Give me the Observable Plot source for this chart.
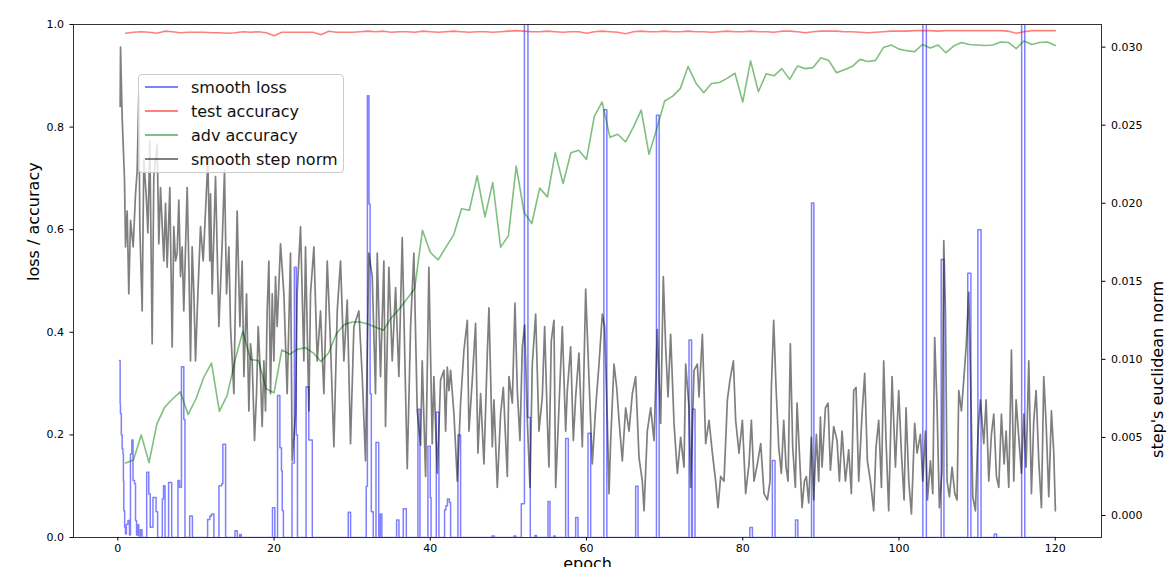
<!DOCTYPE html>
<html><head><meta charset="utf-8">
<script src="https://cdn.jsdelivr.net/npm/d3@7"></script>
<script src="https://cdn.jsdelivr.net/npm/@observablehq/plot@0.6"></script>
<style>
html,body{margin:0;padding:0;background:#fff;}
#wrap{position:relative;width:1168px;height:567px;overflow:hidden;font-family:"DejaVu Sans",sans-serif;}
#wrap svg{position:absolute;left:0;top:0;}
#legend{position:absolute;left:138px;top:74px;width:204px;height:97px;border:1px solid #cccccc;border-radius:4px;background:rgba(255,255,255,0.8);}
.row{position:absolute;left:0;width:100%;height:0;}
.sw{position:absolute;left:6px;width:33px;height:2px;top:-1px;}
.lb{position:absolute;left:52px;top:-9px;font-size:16px;line-height:20px;white-space:nowrap;color:#111;}
</style></head><body><div id="wrap"></div>
<script>
// ---- data ----
const epochs = d3.range(1, 121);
const testAccuracy = [
0.983,0.985,0.986,0.985,0.983,0.987,0.986,0.984,0.985,0.985,
0.985,0.984,0.984,0.983,0.984,0.986,0.985,0.986,0.984,0.978,
0.985,0.985,0.985,0.985,0.985,0.980,0.987,0.985,0.985,0.985,
0.986,0.987,0.986,0.987,0.985,0.986,0.986,0.985,0.987,0.986,
0.985,0.986,0.987,0.986,0.985,0.986,0.986,0.985,0.986,0.987,
0.988,0.987,0.986,0.986,0.987,0.986,0.985,0.986,0.986,0.983,
0.986,0.987,0.986,0.985,0.982,0.986,0.987,0.986,0.986,0.987,
0.986,0.986,0.987,0.986,0.986,0.985,0.986,0.987,0.986,0.986,
0.987,0.986,0.986,0.985,0.987,0.987,0.986,0.984,0.986,0.987,
0.987,0.987,0.986,0.986,0.985,0.984,0.985,0.986,0.987,0.987,
0.987,0.988,0.988,0.988,0.987,0.988,0.988,0.988,0.988,0.988,
0.988,0.988,0.988,0.987,0.983,0.986,0.988,0.988,0.988,0.988];
const advAccuracy = [
0.145,0.151,0.200,0.146,0.221,0.254,0.270,0.284,0.240,0.270,
0.312,0.340,0.246,0.277,0.345,0.402,0.347,0.345,0.290,0.282,
0.366,0.357,0.367,0.370,0.360,0.343,0.360,0.398,0.415,0.420,
0.420,0.416,0.410,0.404,0.428,0.445,0.465,0.485,0.599,0.556,
0.541,0.566,0.590,0.641,0.638,0.705,0.625,0.692,0.566,0.588,
0.724,0.634,0.612,0.681,0.664,0.750,0.690,0.750,0.755,0.737,
0.821,0.849,0.780,0.786,0.771,0.800,0.833,0.747,0.797,0.851,
0.860,0.875,0.918,0.886,0.867,0.885,0.887,0.895,0.905,0.849,
0.929,0.869,0.904,0.900,0.914,0.893,0.919,0.914,0.916,0.935,
0.930,0.906,0.912,0.918,0.932,0.928,0.930,0.955,0.960,0.952,
0.949,0.947,0.961,0.954,0.960,0.945,0.958,0.965,0.961,0.960,
0.959,0.960,0.966,0.965,0.953,0.968,0.961,0.965,0.966,0.959];
// smooth loss: [epoch, value] (drawn as steps)
const smoothLoss = [
[0.22,0.345],[0.30,0.26],[0.34,0.241],[0.45,0.20],[0.56,0.173],[0.66,0.163],[0.72,0.11],[0.77,0.052],[0.88,0.02],[0.98,0.007],
[1.10,0.026],[1.30,0.033],[1.50,0.005],[1.62,0.163],[1.80,0.19],[1.95,0.111],[2.15,0.105],[2.27,0.033],[2.40,0.005],[2.55,0.025],
[2.69,0.003],[2.90,0.015],[3.10,0.0],[3.70,0.127],[3.97,0.085],[4.15,0.02],[4.50,0.078],[4.90,0.05],[5.10,0.0],[5.70,0.075],
[5.85,0.101],[6.05,0.0],[6.50,0.107],[6.90,0.0],[7.70,0.111],[7.90,0.098],[8.15,0.333],[8.45,0.23],[8.60,0.0],[9.20,0.042],
[9.55,0.0],[11.50,0.035],[11.78,0.042],[12.00,0.046],[12.30,0.0],[12.95,0.101],[13.30,0.105],[13.45,0.182],[13.80,0.0],[15.00,0.013],
[15.30,0.0],[15.60,0.006],[15.80,0.0],[19.80,0.058],[20.10,0.0],[20.45,0.277],[20.75,0.175],[20.95,0.13],[21.05,0.052],[21.20,0.0],
[22.30,0.145],[22.60,0.527],[22.85,0.2],[23.00,0.0],[24.10,0.294],[24.45,0.19],[24.90,0.0],[29.50,0.049],[29.80,0.0],[31.80,0.1],
[31.95,0.861],[32.15,0.65],[32.30,0.28],[32.45,0.05],[32.70,0.0],[33.05,0.185],[33.40,0.0],[33.60,0.046],[33.80,0.0],[35.69,0.034],
[35.99,0.0],[36.54,0.056],[36.93,0.0],[38.42,0.25],[38.68,0.0],[39.70,0.178],[40.00,0.078],[40.10,0.0],[40.77,0.244],[41.11,0.0],
[41.83,0.054],[42.00,0.062],[42.20,0.075],[42.45,0.068],[42.60,0.0],[43.54,0.2],[43.88,0.0],[47.90,0.003],[48.20,0.0],[50.70,0.003],
[50.95,0.0],[51.65,0.066],[52.05,1.2],[52.50,0.234],[52.80,0.0],[53.40,0.004],[53.60,0.0],[55.07,0.07],[55.32,0.0],[55.80,0.003],
[56.00,0.0],[57.33,0.193],[57.67,0.0],[58.61,0.039],[58.91,0.0],[60.19,0.203],[60.53,0.0],[62.22,0.834],[62.60,0.0],[66.29,0.10],
[66.59,0.0],[68.95,0.823],[69.30,0.0],[73.12,0.385],[73.45,0.0],[73.55,0.25],[73.89,0.0],[80.90,0.0195],[81.23,0.0],[83.79,0.15],
[84.13,0.0],[86.75,0.034],[87.05,0.0],[88.80,0.652],[89.10,0.0],[103.05,1.2],[103.50,0.0],[105.40,0.542],[105.75,0.0],[108.80,0.515],
[109.20,0.0],[110.10,0.6],[110.50,0.0],[112.20,0.007],[112.50,0.0],[115.70,1.2],[116.10,0.0],[120.00,0.0]];
// smooth step norm: [epoch, value] (right axis)
const stepNorm = [
[0.30,0.0262],[0.35,0.0300],[0.56,0.0255],[0.86,0.0215],[0.99,0.0172],[1.20,0.0195],[1.41,0.0142],[1.63,0.0189],[1.97,0.0172],[2.27,0.0206],
[2.48,0.0221],[2.69,0.0270],[2.82,0.0185],[3.12,0.0131],[3.33,0.0228],[3.67,0.0202],[3.85,0.0181],[4.10,0.0240],[4.40,0.0110],[4.61,0.0217],
[5.04,0.0238],[5.25,0.0174],[5.47,0.0210],[5.89,0.0163],[6.11,0.0200],[6.32,0.0159],[6.66,0.0210],[6.96,0.0108],[7.17,0.0185],[7.39,0.0163],
[7.60,0.0168],[7.81,0.0202],[8.03,0.0153],[8.24,0.0172],[8.45,0.0131],[8.88,0.0210],[9.10,0.0159],[9.31,0.0099],[9.52,0.0172],[9.74,0.0142],
[9.95,0.0099],[10.25,0.0142],[10.59,0.0185],[10.93,0.0163],[11.23,0.0195],[11.53,0.0228],[11.78,0.0163],[11.87,0.0206],[12.08,0.0142],[12.51,0.0217],
[12.94,0.0121],[13.36,0.0174],[13.66,0.0221],[13.92,0.0142],[14.22,0.0172],[14.43,0.0121],[14.86,0.0078],[15.07,0.0142],[15.28,0.0195],[15.63,0.0121],
[15.92,0.0163],[16.14,0.0089],[16.48,0.0142],[16.78,0.0067],[16.99,0.0110],[17.20,0.0099],[17.50,0.0048],[17.76,0.0078],[17.97,0.0121],[18.27,0.0089],
[18.48,0.0057],[18.70,0.0099],[18.91,0.0067],[19.12,0.0131],[19.34,0.0163],[19.55,0.0078],[19.77,0.0142],[19.98,0.0099],[20.19,0.0153],[20.40,0.0121],
[20.83,0.0174],[21.26,0.0142],[21.68,0.0078],[22.11,0.0168],[22.32,0.0035],[22.75,0.0065],[22.96,0.0142],[23.39,0.0185],[23.82,0.0099],[24.03,0.0172],
[24.46,0.0067],[24.67,0.0142],[25.10,0.0172],[25.53,0.0099],[25.95,0.0131],[26.38,0.0078],[26.81,0.0163],[27.23,0.0110],[27.66,0.0044],[28.09,0.0131],
[28.51,0.0163],[28.94,0.0099],[29.37,0.0138],[29.79,0.0046],[30.22,0.0121],[30.86,0.0131],[31.29,0.0089],[31.71,0.0035],[32.14,0.0168],[32.57,0.0153],
[32.99,0.0078],[33.21,0.0168],[33.63,0.0089],[34.06,0.0163],[34.27,0.0057],[34.70,0.0159],[35.13,0.0099],[35.56,0.0146],[35.98,0.0089],[36.41,0.0178],
[36.84,0.0078],[37.05,0.0030],[37.48,0.0121],[37.90,0.0168],[38.33,0.0067],[38.76,0.0045],[38.97,0.0099],[39.40,0.0025],[39.82,0.0159],[40.25,0.0046],
[40.46,0.0089],[40.90,0.0027],[41.32,0.0087],[41.75,0.0093],[41.96,0.0054],[42.18,0.0095],[42.39,0.0080],[42.60,0.0093],[43.03,0.0065],[43.46,0.0022],
[43.88,0.0072],[44.31,0.0106],[44.74,0.0125],[44.95,0.0054],[45.38,0.0087],[45.80,0.0123],[46.10,0.0040],[46.44,0.0078],[46.87,0.0033],[47.30,0.0104],
[47.51,0.0133],[47.94,0.0044],[48.15,0.0074],[48.58,0.0018],[49.00,0.0065],[49.35,0.0082],[49.65,0.0048],[49.86,0.0025],[50.07,0.0089],[50.50,0.0072],
[50.84,0.0136],[51.14,0.0080],[51.48,0.0048],[51.78,0.0108],[52.08,0.0122],[52.42,0.0061],[52.76,0.0018],[53.06,0.0097],[53.49,0.0129],[53.91,0.0054],
[54.34,0.0076],[54.64,0.0121],[54.98,0.0061],[55.19,0.0031],[55.49,0.0112],[55.83,0.0125],[56.05,0.0018],[56.47,0.0069],[56.90,0.0121],[57.33,0.0054],
[57.54,0.0080],[57.97,0.0108],[58.31,0.0048],[58.61,0.0076],[59.03,0.0104],[59.46,0.0044],[59.89,0.0145],[60.32,0.0087],[60.74,0.0033],[61.17,0.0069],
[61.60,0.0097],[62.02,0.0129],[62.32,0.0121],[62.66,0.0061],[62.88,0.0014],[63.09,0.0048],[63.52,0.0097],[63.86,0.0082],[64.16,0.0061],[64.58,0.0035],
[65.01,0.0069],[65.44,0.0054],[65.86,0.0078],[66.29,0.0089],[66.72,0.0037],[67.14,0.0022],[67.36,0.0003],[67.78,0.0054],[68.21,0.0069],[68.64,0.0048],
[69.06,0.0119],[69.49,0.0059],[69.83,0.0153],[70.13,0.0108],[70.43,0.0076],[70.77,0.0116],[71.20,0.0059],[71.63,0.0027],[72.05,0.0050],[72.48,0.0031],
[72.69,0.0097],[73.12,0.0069],[73.33,0.0018],[73.76,0.0093],[74.19,0.0097],[74.40,0.0076],[74.83,0.0116],[75.25,0.0046],[75.68,0.0061],[76.11,0.0040],
[76.53,0.0022],[76.83,0.0005],[77.17,0.0025],[77.60,0.0022],[78.03,0.0074],[78.37,0.0087],[78.80,0.0099],[79.09,0.0061],[79.52,0.0040],[79.95,0.0061],
[80.37,0.0014],[80.80,0.0033],[81.10,0.0061],[81.44,0.0022],[81.87,0.0033],[82.30,0.0046],[82.72,0.0014],[83.15,0.0010],[83.49,0.0022],[83.66,0.0082],
[83.96,0.0125],[84.26,0.0082],[84.60,0.0044],[84.94,0.0027],[85.24,0.0061],[85.54,0.0031],[85.80,0.0022],[86.09,0.0110],[86.39,0.0044],[86.73,0.0018],
[86.95,0.0072],[87.25,0.0040],[87.59,0.0005],[87.89,0.0022],[88.14,0.0025],[88.44,0.0008],[88.78,0.0050],[89.08,0.0010],[89.42,0.0052],[89.72,0.0022],
[89.94,0.0063],[90.15,0.0031],[90.58,0.0069],[90.92,0.0072],[91.22,0.0029],[91.64,0.0057],[92.07,0.0048],[92.37,0.0022],[92.71,0.0054],[93.14,0.0022],
[93.56,0.0042],[93.90,0.0014],[94.20,0.0080],[94.50,0.0082],[94.84,0.0022],[95.27,0.0065],[95.61,0.0091],[95.95,0.0035],[96.34,0.0022],[96.76,0.0003],
[97.06,0.0044],[97.40,0.0061],[97.75,0.0018],[98.04,0.0099],[98.34,0.0048],[98.68,0.0003],[99.11,0.0089],[99.54,0.0031],[99.96,0.0080],[100.31,0.0040],
[100.65,0.0010],[100.90,0.0069],[101.25,0.0022],[101.59,0.0001],[102.01,0.0059],[102.31,0.0040],[102.74,0.0052],[103.04,0.0022],[103.38,0.0054],[103.64,0.0010],
[104.02,0.0035],[104.32,0.0014],[104.57,0.0114],[104.87,0.0069],[105.17,0.0005],[105.51,0.0029],[105.73,0.0176],[105.94,0.0131],[106.15,0.0022],[106.45,0.0012],
[106.79,0.0031],[107.14,0.0014],[107.43,0.0010],[107.65,0.0080],[107.99,0.0067],[108.29,0.0087],[108.59,0.0108],[108.93,0.0143],[109.18,0.0082],[109.44,0.0012],
[109.78,0.0003],[110.12,0.0054],[110.42,0.0074],[110.85,0.0046],[111.15,0.0074],[111.49,0.0022],[111.83,0.0052],[112.13,0.0065],[112.47,0.0025],[112.77,0.0018],
[113.11,0.0065],[113.45,0.0033],[113.71,0.0054],[114.05,0.0018],[114.39,0.0106],[114.69,0.0022],[114.99,0.0074],[115.33,0.0050],[115.67,0.0027],[115.97,0.0065],
[116.27,0.0031],[116.61,0.0099],[116.95,0.0014],[117.25,0.0061],[117.55,0.0080],[117.89,0.0035],[118.23,0.0005],[118.53,0.0089],[118.83,0.0059],[119.17,0.0012],
[119.51,0.0067],[119.81,0.0040],[120.02,0.0003]];
const xTicks = [0, 20, 40, 60, 80, 100, 120];
const leftTicks = [0, 0.2, 0.4, 0.6, 0.8, 1.0];
const rightTicks = [0, 0.005, 0.010, 0.015, 0.020, 0.025, 0.030];
const series = [
  {name: "smooth loss", color: "#0000ff"},
  {name: "test accuracy", color: "#ff0000"},
  {name: "adv accuracy", color: "#008000"},
  {name: "smooth step norm", color: "#000000"}
];

// ---- chart ----
const accTable = epochs.map((e, i) => ({epoch: e, test: testAccuracy[i], adv: advAccuracy[i]}));
const W = 1168, H = 567;
const base = {
  width: W, height: H, marginLeft: 73, marginRight: 67, marginTop: 24, marginBottom: 30,
  x: {domain: [-5.67, 125.92]},
  style: {fontFamily: '"DejaVu Sans", sans-serif', fontSize: "11px", background: "transparent", color: "#000", overflow: "visible"}
};
const p1 = Plot.plot({
  ...base,
  y: {domain: [0, 1]},
  marks: [
    Plot.line(smoothLoss, {x: d => d[0], y: d => d[1], curve: "step-after", stroke: series[0].color, strokeOpacity: 0.5, strokeWidth: 1.5, clip: true}),
    Plot.line(accTable, {x: "epoch", y: "test", stroke: series[1].color, strokeOpacity: 0.5, strokeWidth: 1.6, clip: true}),
    Plot.line(accTable, {x: "epoch", y: "adv", stroke: series[2].color, strokeOpacity: 0.5, strokeWidth: 1.6, clip: true}),
    Plot.frame({stroke: "#333", strokeWidth: 1}),
    Plot.axisX({ticks: xTicks, tickFormat: d => String(d), tickSize: 3.5, tickPadding: 3, label: null}),
    Plot.axisY({ticks: leftTicks, tickFormat: d3.format(".1f"), tickSize: 3.5, tickPadding: 6, label: null}),
    Plot.text(["loss / accuracy"], {text: d => d, frameAnchor: "left", dx: -40, rotate: -90, fontSize: 16}),
    Plot.text(["epoch"], {text: d => d, frameAnchor: "bottom", dy: 20, lineAnchor: "top", fontSize: 16})
  ]
});
const p2 = Plot.plot({
  ...base,
  x: {domain: [-5.67, 125.92], axis: null},
  y: {domain: [-0.00141, 0.03145]},
  marks: [
    Plot.line(stepNorm, {x: d => d[0], y: d => d[1], stroke: series[3].color, strokeOpacity: 0.5, strokeWidth: 1.7, clip: true}),
    Plot.axisY({anchor: "right", ticks: rightTicks, tickFormat: d3.format(".3f"), tickSize: 3.5, tickPadding: 6, label: null}),
    Plot.text(["step's euclidean norm"], {text: d => d, frameAnchor: "right", dx: 56, rotate: -90, fontSize: 16})
  ]
});
const wrap = document.getElementById("wrap");
wrap.appendChild(p1);
wrap.appendChild(p2);

// legend
const lg = document.createElement("div");
lg.id = "legend";
const rowY = [12.3, 35.7, 60, 84];
series.forEach((s, i) => {
  const r = document.createElement("div");
  r.className = "row";
  r.style.top = rowY[i] + "px";
  const sw = document.createElement("div");
  sw.className = "sw";
  sw.style.background = s.color;
  sw.style.opacity = "0.5";
  const lb = document.createElement("div");
  lb.className = "lb";
  lb.textContent = s.name;
  r.appendChild(sw); r.appendChild(lb);
  lg.appendChild(r);
});
wrap.appendChild(lg);
</script></body></html>
